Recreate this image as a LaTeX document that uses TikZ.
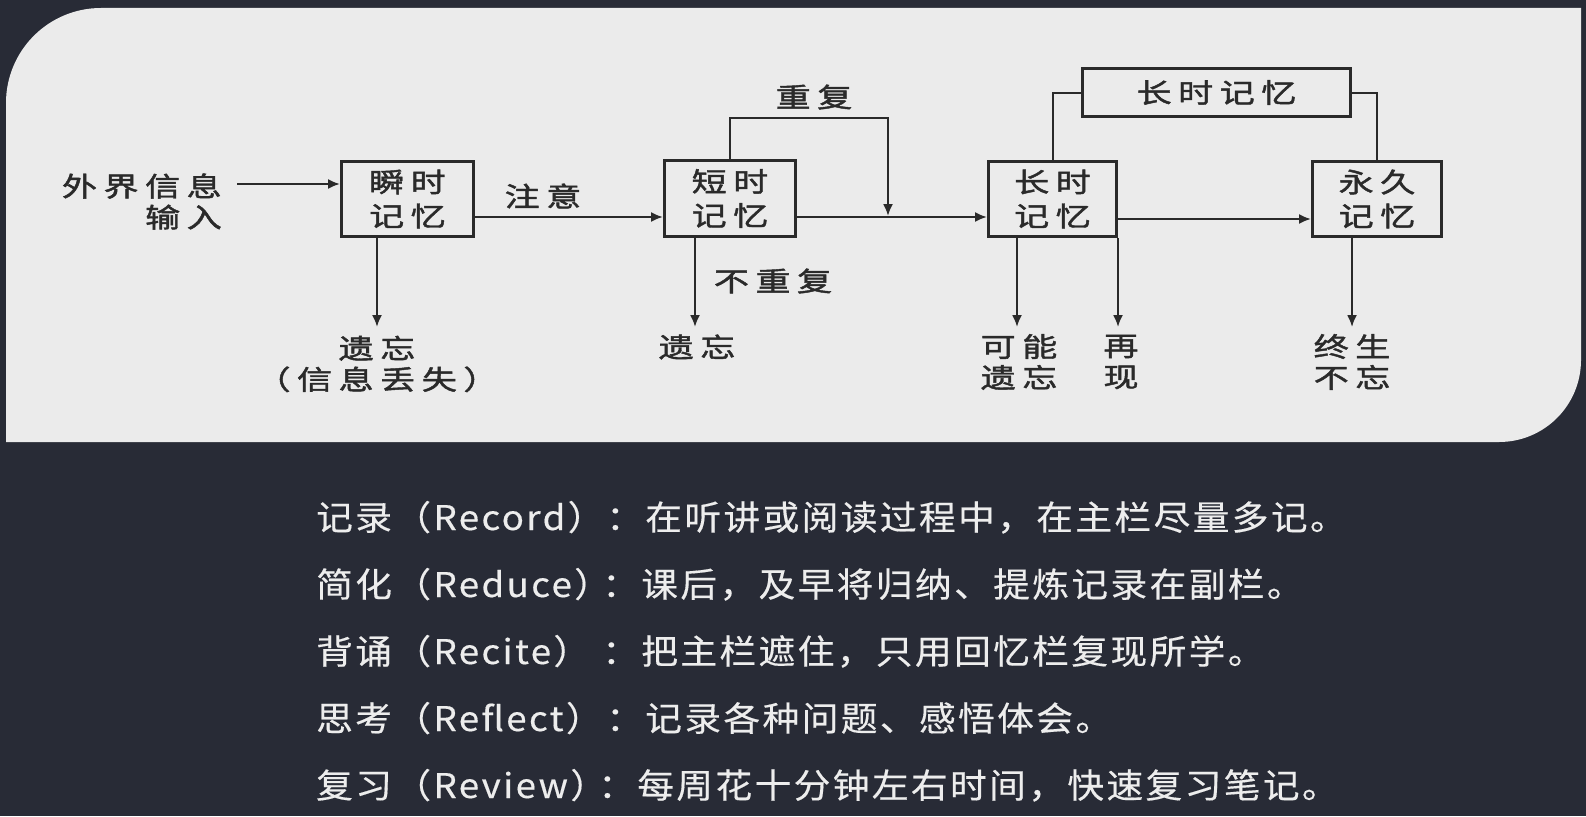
\documentclass[tikz,border=0pt]{standalone}
\usepackage{fontspec}
\usetikzlibrary{arrows.meta}
\newfontfamily\diafont[FakeStretch=1.3,LetterSpace=24,FakeBold=1.6]{Noto Sans CJK SC}
\newfontfamily\notefont[FakeStretch=1.08,LetterSpace=7,FakeBold=0.4]{Noto Sans CJK SC}
\definecolor{bg}{HTML}{282B36}
\definecolor{panel}{HTML}{EBEBEB}
\definecolor{ink}{HTML}{2A2A2A}
\definecolor{note}{HTML}{EDEDED}

\begin{document}
\begin{tikzpicture}[x=1pt,y=-1pt,
  memory/.style={draw=ink, line width=3pt, fill=panel, inner sep=0pt,
    font=\diafont\fontsize{27}{34}\selectfont, text=ink, align=center},
  lbl/.style={font=\diafont\fontsize{27}{31}\selectfont, text=ink,
    align=center, inner sep=0pt},
  link/.style={draw=ink, line width=2pt},
  arr/.style={link, -{Latex[length=12pt,width=10pt]}},
  notetext/.style={font=\notefont\fontsize{34}{40}\selectfont, text=note,
    anchor=base west, inner sep=0pt},
]
\useasboundingbox (0,0) rectangle (1586,816);
\fill[bg] (0,0) rectangle (1586,816);

% light panel with two rounded corners
\fill[panel] (6,442) -- (6,103) .. controls (6,50.5) and (48.5,8) .. (101,8)
  -- (1581,8) -- (1581,360) .. controls (1581,405.3) and (1544.3,442) .. (1499,442)
  -- cycle;

% memory stages
\node[memory, minimum width=132pt, minimum height=75pt] (ims)  at (407.5,199) {瞬时\\记忆};
\node[memory, minimum width=131pt, minimum height=76pt] (stm)  at (730,198.5) {短时\\记忆};
\node[memory, minimum width=128pt, minimum height=75pt] (ltm)  at (1052.5,199) {长时\\记忆};
\node[memory, minimum width=129pt, minimum height=75pt] (perm) at (1377,199) {永久\\记忆};
\node[memory, minimum width=268pt, minimum height=48pt] (lta)  at (1216.5,92.5) {长时记忆};

% input
\node[lbl, align=right, anchor=east] (inp) at (222,201.5) {外界信息\\输入};
\coordinate (inA) at (237,184);
\draw[arr] (inA) -- (inA -| ims.west);

% main flow
\coordinate (ya) at (0,217);
\coordinate (yb) at (0,219);
\draw[arr] (ims.east |- ya) -- (stm.west |- ya);
\draw[arr] (stm.east |- ya) -- (ltm.west |- ya);
\draw[arr] (ltm.east |- yb) -- (perm.west |- yb);
\node[lbl] (att) at (543,196) {注意};

% rehearsal loop
\coordinate (rpt) at (888,118);
\coordinate (jn) at (888,216);
\draw[arr] (stm.north) |- (rpt) -- (jn);
\node[lbl] (rep) at (814,97) {重复};

% long-term store links
\draw[link] (ltm.north) |- (lta.west);
\draw[link] (lta.east) -| (perm.north);

% outcomes
\coordinate (d1) at (377,327);
\coordinate (d2) at (695,327);
\coordinate (d3) at (1017,327);
\coordinate (d4) at (1118,327);
\coordinate (d5) at (1352,327);
\draw[arr] (d1 |- ims.south) -- (d1);
\draw[arr] (d2 |- stm.south) -- (d2);
\draw[arr] (d3 |- ltm.south) -- (d3);
\draw[arr] (d4 |- ltm.south) -- (d4);
\draw[arr] (d5 |- perm.south) -- (d5);
\node[lbl] (norep) at (773,281) {不重复};
\node[lbl] (f1) at (377,364) {遗忘\\（信息丢失）};
\node[lbl] (f2) at (697,347) {遗忘};
\node[lbl] (f3) at (1019,362) {可能\\遗忘};
\node[lbl] (f4) at (1121,362) {再\\现};
\node[lbl] (f5) at (1352,362) {终生\\不忘};

% note-taking steps
\node[notetext] (s1a) at (316,530) {记录（Record）};
\node[notetext] (s1b) at (606,530) {：在听讲或阅读过程中，在主栏尽量多记。};
\node[notetext] (s2a) at (316,597) {简化（Reduce）};
\node[notetext] (s2b) at (602,597) {：课后，及早将归纳、提炼记录在副栏。};
\node[notetext] (s3a) at (316,664) {背诵（Recite）};
\node[notetext] (s3b) at (602,664) {：把主栏遮住，只用回忆栏复现所学。};
\node[notetext] (s4a) at (316,731) {思考（Reflect）};
\node[notetext] (s4b) at (606,731) {：记录各种问题、感悟体会。};
\node[notetext] (s5a) at (316,798) {复习（Review）};
\node[notetext] (s5b) at (598,798) {：每周花十分钟左右时间，快速复习笔记。};
\end{tikzpicture}
\end{document}
